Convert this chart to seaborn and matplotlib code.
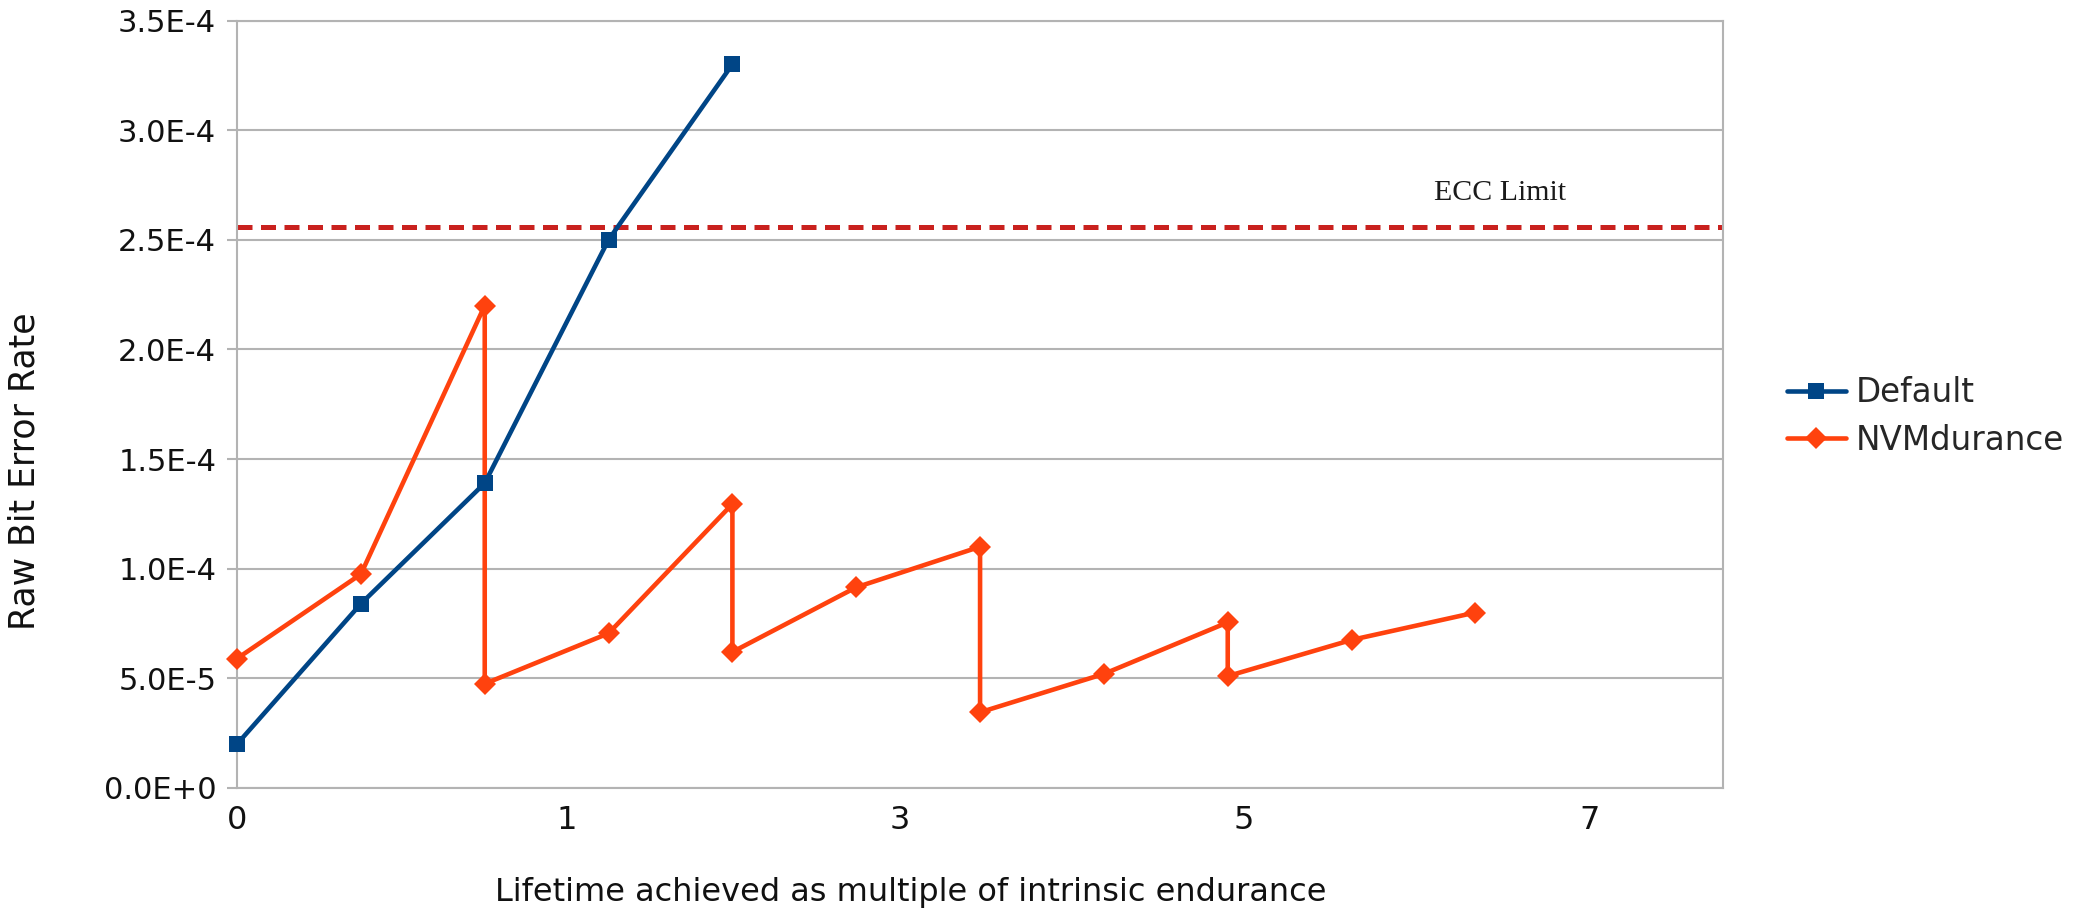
import matplotlib
matplotlib.use("Agg")
import matplotlib.pyplot as plt
import seaborn as sns
import pandas as pd

default_step = [0, 1, 2, 3, 4]
default_rber = [2.0e-5, 8.4e-5, 1.39e-4, 2.5e-4, 3.3e-4]

nvm_step = [0, 1, 2, 2, 3, 4, 4, 5, 6, 6, 7, 8, 8, 9, 10]
nvm_rber = [5.9e-5, 9.75e-5, 2.2e-4, 4.75e-5, 7.05e-5, 1.295e-4, 6.2e-5,
            9.15e-5, 1.1e-4, 3.45e-5, 5.2e-5, 7.55e-5, 5.1e-5, 6.75e-5, 8.0e-5]

ecc_limit = 2.56e-4

x_tick_labels = ["0", "1", "3", "5", "7"]
x_tick_pos = [0, 2.66, 5.35, 8.13, 10.92]

df_default = pd.DataFrame({"step": default_step, "rber": default_rber})
df_nvm = pd.DataFrame({"step": nvm_step, "rber": nvm_rber})

sns.set_style("white")
plt.rcParams["font.family"] = ["DejaVu Sans"]

fig = plt.figure(figsize=(20.74, 9.13), dpi=100)
ax = fig.add_axes([0.1143, 0.137, 0.7165, 0.8405])

ax.axhline(ecc_limit, color="#c9211e", lw=3.6, dashes=(3, 1.7), zorder=2)
ax.text(10.2, ecc_limit + 1.55e-5, "ECC Limit", family="Liberation Serif",
        fontsize=21.5, ha="center", va="center", color="#1a1a1a")

sns.lineplot(df_nvm, x="step", y="rber", ax=ax, sort=False, estimator=None,
             color="#ff420e", lw=3.3, marker="D", markersize=11.5,
             markeredgewidth=0, label="NVMdurance", zorder=3, clip_on=False)
sns.lineplot(df_default, x="step", y="rber", ax=ax, sort=False, estimator=None,
             color="#004586", lw=3.3, marker="s", markersize=11,
             markeredgewidth=0, label="Default", zorder=4, clip_on=False)

ax.set_xlim(0, 12)
ax.set_ylim(0, 3.5e-4)
ax.set_yticks([i * 5e-5 for i in range(8)])


def sci(v, pos):
    m, e = f"{v:.1E}".split("E")
    return f"{m}E{int(e):+d}"


ax.yaxis.set_major_formatter(matplotlib.ticker.FuncFormatter(sci))
ax.set_xticks(x_tick_pos)
ax.set_xticklabels(x_tick_labels)

ax.grid(axis="y", color="#b3b3b3", lw=1.5)
ax.grid(axis="x", visible=False)
for s in ax.spines.values():
    s.set_color("#b3b3b3")
    s.set_linewidth(1.5)

ax.tick_params(axis="y", length=7, width=1.5, color="#b3b3b3", pad=8,
               labelsize=22, labelcolor="#111111", left=True)
ax.tick_params(axis="x", length=0, pad=12, labelsize=23, labelcolor="#111111")

ax.set_xlabel("")
ax.set_ylabel("")
fig.text(0.439, 0.022, "Lifetime achieved as multiple of intrinsic endurance",
         ha="center", va="center", fontsize=23, color="#111111")
fig.text(0.0116, 0.484, "Raw Bit Error Rate", rotation=90,
         ha="center", va="center", fontsize=25, color="#111111")

handles, labels = ax.get_legend_handles_labels()
order = [labels.index("Default"), labels.index("NVMdurance")]
ax.legend([handles[i] for i in order], [labels[i] for i in order],
          loc="center left", bbox_to_anchor=(1.043, 0.484), frameon=False,
          fontsize=23.5, borderaxespad=0, borderpad=0, handlelength=1.8,
          handletextpad=0.3, labelspacing=0.45)

fig.savefig("out.png", dpi=100)
plt.close()
